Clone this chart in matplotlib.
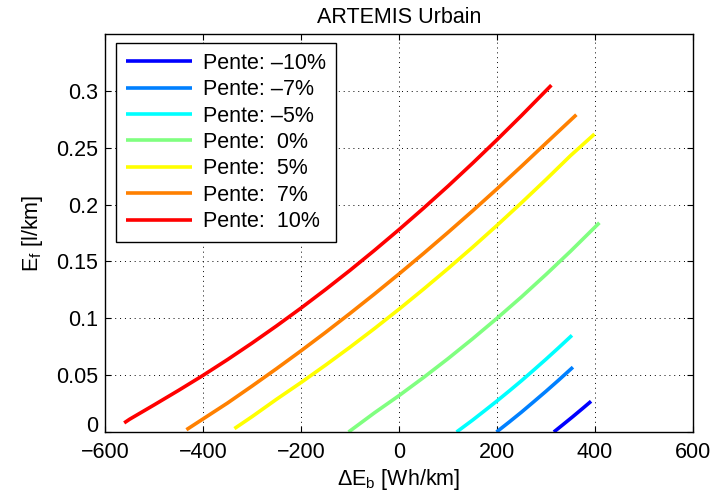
import numpy as np
import matplotlib
matplotlib.use("Agg")
import matplotlib.pyplot as plt

plt.rcParams['font.family'] = ['Liberation Sans', 'DejaVu Sans']
plt.rcParams['mathtext.fontset'] = 'custom'
plt.rcParams['mathtext.rm'] = 'Liberation Sans'
plt.rcParams['mathtext.it'] = 'Liberation Sans'

# --- Courbes (Delta E_b [Wh/km], E_f [l/km]) ---
labels = ["Pente: \u201310%", "Pente: \u20137%", "Pente: \u20135%",
          "Pente:  0%", "Pente:  5%", "Pente:  7%", "Pente:  10%"]
colors = ["#0000ff", "#0080ff", "#00ffff", "#80ff80", "#ffff00", "#ff8000", "#ff0000"]

x_m10 = [316, 335, 355, 375, 392]
y_m10 = [0.0, 0.0066, 0.0136, 0.0208, 0.027]

x_m7 = [199, 225, 250, 275, 300, 325, 355]
y_m7 = [0.0, 0.0088, 0.0175, 0.0266, 0.0358, 0.0453, 0.057]

x_m5 = [117.5, 150, 175, 200, 225, 250, 275, 300, 325, 353]
y_m5 = [0.0, 0.0104, 0.0188, 0.0273, 0.0361, 0.0451, 0.0545, 0.064, 0.0738, 0.085]

x_0 = [-103, -50, 0, 50, 100, 150, 200, 250, 300, 350, 409]
y_0 = [0.0, 0.0169, 0.032, 0.0479, 0.0645, 0.0819, 0.100, 0.1188, 0.1385, 0.1589, 0.184]

x_5 = [-336, -300, -250, -200, -150, -100, -50, 0, 50, 100, 150, 200, 250, 300, 350, 399]
y_5 = [0.003, 0.0135, 0.0288, 0.0435, 0.0588, 0.0746, 0.091, 0.108, 0.1256, 0.1437,
       0.1624, 0.1817, 0.2016, 0.222, 0.243, 0.262]

x_7 = [-434, -400, -350, -300, -250, -200, -150, -100, -50, 0, 50, 100, 150, 200, 250, 300, 362]
y_7 = [0.002, 0.0115, 0.0255, 0.0404, 0.0557, 0.0714, 0.0876, 0.1043, 0.1214, 0.139,
       0.157, 0.1755, 0.1944, 0.2138, 0.2337, 0.254, 0.279]

x_10 = [-561, -550, -500, -450, -400, -350, -300, -250, -200, -150, -100, -50, 0,
        50, 100, 150, 200, 250, 311]
y_10 = [0.008, 0.0112, 0.0238, 0.0366, 0.0498, 0.0637, 0.0782, 0.0933, 0.109, 0.1253,
        0.1422, 0.1598, 0.178, 0.1968, 0.2162, 0.2363, 0.257, 0.2783, 0.305]

xs = [x_m10, x_m7, x_m5, x_0, x_5, x_7, x_10]
ys = [y_m10, y_m7, y_m5, y_0, y_5, y_7, y_10]

xticks = [-600, -400, -200, 0, 200, 400, 600]
yticks = [0, 0.05, 0.1, 0.15, 0.2, 0.25, 0.3]
ytick_labels = ["0", "0.05", "0.1", "0.15", "0.2", "0.25", "0.3"]

fig = plt.figure(figsize=(7.1, 5), dpi=100)
ax = fig.add_axes([0.148, 0.136, 0.828, 0.796])

for x, y, c, lab in zip(xs, ys, colors, labels):
    ax.plot(x, y, color=c, lw=2.6, label=lab, solid_capstyle='butt')

ax.set_xlim(-600, 600)
ax.set_ylim(0, 0.35)
ax.set_xticks(xticks)
ax.set_yticks(yticks)
ax.set_yticklabels(ytick_labels)
# le "0" de l'axe y est posé sur le trait, comme dans MATLAB
ax.get_yticklabels()[0].set_verticalalignment('baseline')
ax.tick_params(direction='in', top=True, right=True, labelsize=15.5, length=4, width=0.8)
ax.tick_params(axis='x', pad=7)
ax.tick_params(axis='y', pad=5)
ax.grid(True, color='black', linestyle=(0, (1, 4)), linewidth=0.7)
for s in ax.spines.values():
    s.set_linewidth(1.0)

ax.set_title("ARTEMIS Urbain", fontsize=15.5, pad=8)
ax.set_xlabel(r"$\Delta$E$_\mathregular{b}$ [Wh/km]", fontsize=15.5, labelpad=3)
ax.set_ylabel(r"E$_\mathregular{f}$ [l/km]", fontsize=15.5, labelpad=8)

leg = ax.legend(loc='upper left', bbox_to_anchor=(0.0187, 0.977), fontsize=15.5,
                fancybox=False, framealpha=1, edgecolor='black',
                handlelength=3.1, handletextpad=0.5, labelspacing=0.25,
                borderpad=0.45, borderaxespad=0)
leg.get_frame().set_linewidth(1.0)

fig.savefig("out.png", dpi=100)
